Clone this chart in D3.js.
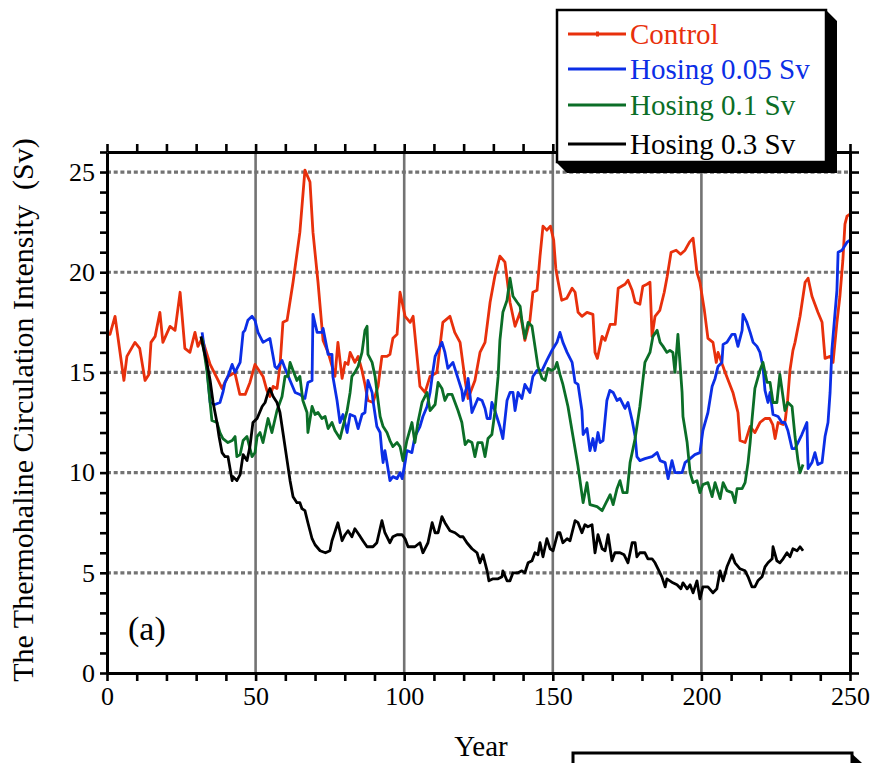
<!DOCTYPE html>
<html><head><meta charset="utf-8">
<script src="https://cdn.jsdelivr.net/npm/d3@7"></script>
<style>
body{margin:0;background:#fff;}
svg{display:block;font-family:"Liberation Serif","Times New Roman",serif;}
</style></head><body>
<svg id="chart" width="876" height="763"></svg>
<script>
const seriesNames = ["Control", "Hosing 0.05 Sv", "Hosing 0.1 Sv", "Hosing 0.3 Sv"];
const seriesColors = ["#e8300c", "#0b2ee6", "#0b6e27", "#000000"];
const xTickLabels = [0, 50, 100, 150, 200, 250];
const yTickLabels = [0, 5, 10, 15, 20, 25];
const xGridYears = [50, 100, 150, 200];
const yGridValues = [5, 10, 15, 20, 25];

// [year, Sv]
const control = [[0,16.9],[1,16.9],[2.7,17.8],[5.7,14.6],[6.7,15.8],[9.4,16.5],[11,16.2],[12.8,14.6],[14.1,14.9],[14.8,16.5],[16.2,16.8],[17.8,18.0],[18.8,16.5],[21.2,17.3],[22.9,17.1],[24.6,19.0],[26.2,16.2],[27.9,16.0],[29.6,17.0],[30.6,16.3],[32,16.7],[34.7,15.4],[37.4,14.6],[38.7,14.2],[40.7,14.8],[43,15.0],[44.7,13.9],[46.5,13.9],[48.1,14.5],[49.8,15.4],[52.5,14.8],[53.8,14.1],[54.8,13.8],[55.9,14.3],[57.2,14.2],[58.2,15.3],[59.2,17.5],[60.6,17.6],[62.6,19.5],[64.9,22.0],[66.6,25.1],[68.3,24.5],[69.3,22.0],[71.0,19.5],[72.7,16.6],[74.4,16.0],[76.7,14.8],[77.7,16.5],[79.1,14.7],[80.1,15.5],[81.1,15.4],[81.8,16.0],[83.4,15.5],[84.5,15.8],[85.8,15.1],[86.8,14.4],[87.8,13.6],[89.5,13.5],[91.2,14.3],[92.5,15.8],[94.2,15.8],[95.2,15.9],[96.2,16.7],[97.6,16.9],[98.6,19.0],[100.3,17.8],[102,17.5],[103,17.8],[105.3,14.3],[107,14.0],[108.7,14.8],[111,15.0],[113,17.5],[115.4,17.8],[117,17.0],[118.8,16.5],[120.5,14.6],[121.5,13.7],[123.8,14.6],[125.5,16.0],[127.2,16.5],[128.9,18.5],[130.5,19.8],[132.2,20.8],[133.9,20.5],[135.6,18.5],[137.3,17.3],[139,18.0],[140.6,16.6],[142.3,17.6],[143.3,19.0],[144.7,19.1],[145.7,20.8],[146.7,22.3],[148,22.1],[149.2,22.3],[150.3,21.6],[151,20.2],[151.7,19.6],[153,18.6],[154.7,18.7],[156.5,19.2],[157.5,19.0],[158.5,18.0],[159.8,17.8],[161.5,18.0],[163.5,17.9],[164.2,16.0],[165,15.7],[166.6,16.8],[167.6,16.6],[169.3,17.4],[171,17.4],[172,19.2],[174.3,19.4],[175.3,19.6],[176.7,19.1],[177.7,18.5],[179.3,18.4],[180.3,19.3],[181.7,19.4],[182.7,19.5],[183.4,16.8],[184.4,17.8],[186,18.1],[187.5,19.0],[188.5,19.8],[189.8,21.0],[191.5,21.1],[193,20.9],[194.5,21.1],[196,21.5],[197.2,21.7],[198.5,20.0],[199.5,19.5],[201,18.1],[202.2,16.7],[203.9,16.5],[205,15.5],[205.6,16.0],[208,15.0],[210.6,14.0],[212.3,13.0],[213,11.6],[214.7,11.5],[216.4,12.3],[218,12.0],[219.7,12.5],[221.4,12.7],[223,12.7],[224,12.4],[224.8,11.7],[225.8,12.5],[227.5,12.4],[228.2,12.6],[229,13.6],[229.8,15.1],[230.8,16.1],[231.5,16.5],[233.2,17.8],[234.9,19.5],[235.9,19.7],[237.2,18.8],[239.2,18.0],[240.6,17.5],[241.6,15.7],[243.3,15.8],[244.3,15.5],[245.6,17.5],[246.6,18.8],[247.6,20.6],[248.3,22.4],[249,22.8],[250,22.9]];

const hosing005 = [[32,17.0],[33.6,15.3],[34.7,13.5],[36.3,13.4],[38,13.5],[39,14.0],[39.7,14.5],[40.7,14.8],[42.1,15.4],[43.1,15.0],[44.1,15.3],[44.8,15.5],[45.8,17.0],[46.4,17.1],[47.4,17.6],[48.8,17.8],[49.8,17.6],[50.8,17.0],[52.5,16.5],[54.8,16.7],[56.5,15.3],[57.2,15.2],[58.9,15.6],[59.9,15.2],[61.6,14.6],[63.3,14.0],[64.9,13.9],[66.6,13.7],[67.6,14.5],[69.0,14.6],[69.3,17.9],[70.7,17.0],[72.3,17.0],[72.7,17.2],[74.4,15.9],[75.7,15.9],[76.0,14.8],[77.4,13.6],[78.4,12.5],[79.4,12.9],[80.8,12.0],[81.8,12.9],[83.4,12.8],[84.5,12.2],[85.8,12.9],[86.8,13.0],[87.8,14.6],[89.2,14.0],[89.5,13.6],[90.8,12.3],[91.9,12.0],[92.5,11.0],[92.9,10.5],[93.5,11.1],[94.2,10.5],[95.2,9.6],[96.2,9.8],[97.6,9.7],[98.6,10.0],[99.3,9.7],[100.3,10.5],[100.9,11.1],[102.6,11.0],[103.6,11.8],[105.3,12.3],[106.3,12.8],[107.7,13.3],[108.7,14.0],[109.7,15.1],[110.4,15.8],[112.7,16.5],[113.7,16.0],[114.7,15.2],[116.4,15.5],[118.1,14.7],[119.4,14.1],[119.8,13.6],[121.1,14.3],[121.5,14.7],[122.8,13.0],[124.8,13.7],[126.2,13.6],[127.2,13.2],[127.9,12.7],[128.9,12.7],[129.5,13.5],[130.5,13.1],[132.2,12.3],[133.2,11.7],[134.6,13.6],[135.6,14.0],[136.6,14.0],[137.3,13.1],[138.3,14.0],[139.6,13.7],[140.6,14.4],[142.3,14.0],[143.3,14.8],[144.7,15.1],[146.4,15.1],[148.0,15.6],[149.7,16.1],[151.4,16.5],[152.4,17.0],[153.4,16.5],[154.8,16.0],[156.5,15.5],[157.5,14.5],[158.5,14.4],[159.8,13.1],[160.2,11.9],[161.5,12.2],[162.5,11.1],[163.5,11.7],[164.2,11.1],[165.2,12.0],[165.9,11.5],[166.9,11.6],[168.2,13.6],[169.2,14.1],[170.3,14.0],[171.6,13.6],[172.6,13.7],[174.3,13.2],[175.3,13.5],[176.7,12.6],[177.7,11.8],[178.3,10.8],[179.3,10.6],[181.0,10.7],[183.4,10.8],[185.1,11.0],[186.1,10.6],[187.8,10.5],[188.8,9.7],[190.1,10.6],[191.1,10.0],[193.5,10.0],[194.5,10.5],[196.2,10.7],[197.8,10.9],[199.5,11.0],[200.5,12.1],[202.2,13.0],[203.6,14.3],[204.6,14.7],[205.6,15.3],[206.9,15.5],[207.3,16.4],[208.6,16.5],[210.3,16.9],[211.3,16.9],[212.3,16.3],[213.7,17.1],[214.0,17.9],[215.3,17.5],[216.4,17.0],[217.4,16.5],[218.7,16.3],[219.7,16.0],[220.7,15.3],[221.4,14.1],[222.4,13.5],[223.1,14.0],[224.1,12.9],[225.8,12.8],[227.1,12.5],[228.1,12.5],[229.1,12.1],[230.5,11.2],[231.5,11.2],[232.5,11.5],[233.8,11.9],[235.5,12.5],[235.9,10.2],[237.2,10.5],[238.2,11.0],[239.2,10.4],[240.6,10.5],[241.6,11.8],[242.6,12.5],[243.3,14.0],[243.9,16.1],[245.6,19.1],[246.0,21.0],[247.3,21.1],[249.0,21.5],[250,21.6]];

const hosing01 = [[32,16.7],[33.6,15.1],[35.3,12.6],[37,12.5],[38,12.0],[39,11.7],[40.7,11.5],[42.1,11.6],[43.1,11.8],[43.7,10.8],[44.8,10.9],[45.8,11.6],[47.1,11.8],[48.8,10.8],[49.8,11.0],[50.5,11.8],[51.5,12.0],[52.5,11.5],[54.2,12.7],[55.5,12.0],[57.2,13.1],[58.9,13.8],[59.9,14.8],[60.9,14.8],[61.6,15.5],[62.6,15.1],[63.9,14.6],[64.9,14.8],[65.9,13.6],[67.3,13.0],[67.6,12.0],[69.0,13.3],[70.0,12.9],[71.0,13.0],[72.3,12.7],[73.4,12.8],[74.4,12.2],[75.7,12.5],[76.7,12.1],[78.4,11.7],[79.4,12.3],[80.8,13.1],[81.8,14.0],[82.4,14.8],[83.4,15.0],[84.5,15.3],[85.8,16.0],[86.8,17.1],[87.5,17.3],[87.8,15.9],[89.2,15.5],[90.2,14.8],[91.2,13.6],[91.9,12.8],[92.9,12.3],[94.2,12.0],[95.2,11.6],[96.2,11.3],[97.6,11.5],[98.6,11.3],[99.6,10.6],[100.9,11.6],[102.6,12.5],[103.6,11.5],[104.6,12.5],[106.0,13.5],[107.7,14.0],[108.7,13.1],[110.4,13.4],[111.4,14.5],[112.7,14.2],[113.7,13.6],[114.7,13.9],[116.1,13.9],[117.1,13.5],[118.1,13.1],[119.4,12.5],[120.5,11.4],[121.5,11.6],[122.8,11.5],[123.8,10.8],[124.8,11.5],[126.2,11.5],[127.2,10.8],[128.2,11.7],[129.5,11.9],[130.5,13.0],[131.6,14.8],[132.2,16.6],[133.2,18.0],[134.6,18.6],[135.6,19.7],[136.6,18.8],[138.0,18.5],[139.0,18.3],[139.6,17.6],[140.6,16.7],[141.7,17.5],[143.0,17.3],[144.0,16.3],[145.0,15.3],[146.4,14.7],[147.4,14.6],[148.4,15.2],[149.7,15.1],[150.7,15.2],[151.4,15.5],[152.4,14.9],[153.4,14.4],[155.1,13.3],[156.8,11.8],[158.5,10.3],[160.2,8.5],[161.5,9.5],[162.5,8.4],[164.9,8.3],[166.6,8.1],[167.6,8.4],[169.3,8.9],[170.3,8.4],[171.6,9.2],[172.6,9.6],[173.6,9.0],[175.0,9.0],[176.0,10.5],[177.7,11.7],[179.3,13.3],[181.0,15.5],[182.7,16.0],[183.7,16.8],[185.1,17.1],[186.1,16.5],[187.1,16.3],[188.4,16.0],[189.4,16.1],[190.4,16.0],[191.1,15.0],[192.1,16.9],[193.5,14.0],[193.8,12.8],[195.2,11.5],[196.2,10.0],[197.2,9.5],[198.5,9.6],[199.5,9.0],[200.5,9.4],[202.2,9.5],[203.6,8.8],[204.6,9.5],[206.3,8.7],[207.3,9.5],[208.6,9.1],[210.3,9.0],[211.3,8.5],[212.0,9.2],[213.7,9.2],[214.7,9.5],[215.7,10.5],[216.4,11.5],[217.0,12.6],[218.0,14.2],[219.7,15.1],[220.7,15.5],[222.1,14.5],[223.1,14.5],[224.1,13.5],[225.4,13.5],[226.4,14.9],[228.1,13.1],[229.1,13.5],[230.5,13.3],[231.5,11.8],[232.5,10.6],[233.2,10.0],[234.2,10.4]];

const hosing03 = [[31.6,16.8],[32.3,16.3],[33.6,15.5],[34.7,14.6],[35.7,13.5],[37.0,12.5],[37.7,11.8],[38.7,11.0],[39.7,10.8],[40.7,10.8],[42.1,9.6],[42.4,9.8],[43.7,9.6],[44.8,9.9],[45.8,10.9],[47.1,10.6],[48.1,11.3],[49.1,12.5],[50.5,12.7],[52.2,13.3],[53.2,13.5],[54.2,14.0],[54.8,14.2],[55.9,13.8],[57.2,13.5],[58.2,13.0],[59.2,12.0],[60.6,10.6],[61.6,9.6],[62.6,8.8],[63.9,8.5],[64.9,8.5],[65.6,8.2],[66.6,8.1],[67.6,7.5],[69.0,6.7],[70.0,6.4],[71.7,6.1],[73.5,6.0],[75.0,6.1],[75.7,6.6],[77.7,7.5],[79.1,6.6],[80.1,6.9],[81.1,7.1],[82.4,6.8],[83.4,7.2],[84.8,6.9],[86.1,6.6],[87.5,6.3],[89.5,6.3],[90.8,6.5],[92.5,7.6],[93.5,7.0],[95.2,6.5],[96.2,6.8],[97.6,6.9],[99.3,6.9],[100.3,6.7],[101.3,6.3],[102.0,6.3],[103.6,6.3],[105.3,6.5],[106.3,6.0],[108.0,6.5],[109.4,7.5],[110.4,7.0],[111.4,7.0],[112.7,7.8],[113.7,7.5],[115.4,7.1],[117.1,7.0],[118.8,6.8],[119.8,6.8],[121.1,6.5],[122.8,6.2],[124.5,6.0],[125.5,5.5],[126.5,5.9],[127.9,5.1],[128.5,4.6],[129.9,4.7],[131.6,4.7],[132.9,4.8],[133.2,5.1],[134.6,4.6],[135.6,4.6],[136.6,5.0],[138.3,5.0],[139.6,5.1],[140.6,5.0],[141.7,5.5],[143.0,5.6],[144.0,6.0],[145.0,5.9],[145.7,6.5],[146.7,5.8],[148.0,6.7],[149.1,6.2],[150.1,6.1],[151.7,7.0],[152.4,7.0],[153.4,6.5],[154.8,6.7],[155.8,6.6],[157.5,7.6],[158.5,7.5],[159.8,7.0],[160.8,7.4],[161.8,7.3],[163.2,7.4],[164.2,6.0],[165.2,6.9],[166.6,6.2],[167.6,6.1],[168.6,6.9],[169.9,5.6],[170.9,6.0],[172.6,6.0],[174.0,5.9],[175.3,5.5],[176.7,6.5],[177.7,6.5],[178.3,5.8],[179.3,6.0],[181.0,6.0],[182.0,5.7],[183.4,5.7],[184.4,5.5],[185.4,5.2],[186.7,4.8],[187.8,4.3],[188.4,4.7],[189.4,4.6],[190.4,4.5],[191.8,4.4],[193.1,4.2],[193.8,4.5],[195.2,4.2],[196.2,4.4],[197.2,4.0],[198.5,4.6],[199.5,3.7],[200.5,4.3],[202.2,4.3],[203.9,4.0],[205.2,4.2],[206.3,5.1],[207.3,4.6],[208.6,5.3],[210.3,5.9],[211.3,5.5],[213.0,5.2],[214.7,5.1],[215.7,4.8],[217.0,4.3],[218.0,4.3],[219.0,4.6],[220.4,4.8],[221.4,5.3],[222.4,5.5],[223.8,5.7],[224.1,6.3],[225.4,5.6],[226.4,5.5],[227.5,5.7],[228.8,6.0],[229.8,5.8],[230.8,6.2],[232.2,6.1],[233.2,6.3],[234.2,6.1]];

const allSeries = [control, hosing005, hosing01, hosing03];

const svg = d3.select("#chart");
const x = d3.scaleLinear().domain([0, 250]).range([107, 850]);
const y = d3.scaleLinear().domain([0, 26]).range([673, 152]);
const gridGray = "#737373";

// grid
svg.append("g").selectAll("line").data(yGridValues).join("line")
  .attr("x1", x(0)).attr("x2", x(250))
  .attr("y1", d => y(d)).attr("y2", d => y(d))
  .attr("stroke", gridGray).attr("stroke-width", 3.2)
  .attr("stroke-dasharray", "4,2.7");
svg.append("g").selectAll("line").data(xGridYears).join("line")
  .attr("x1", d => x(d)).attr("x2", d => x(d))
  .attr("y1", y(0)).attr("y2", y(26))
  .attr("stroke", gridGray).attr("stroke-width", 2.6);

// lines
const line = d3.line().x(d => x(d[0])).y(d => y(d[1]));
svg.append("g").selectAll("path").data(allSeries).join("path")
  .attr("d", line)
  .attr("fill", "none")
  .attr("stroke", (d, i) => seriesColors[i])
  .attr("stroke-width", 2.8)
  .attr("stroke-linejoin", "round");

// axes
function styleAxis(g) {
  g.select(".domain").attr("stroke", "#000").attr("stroke-width", 3);
  g.selectAll(".tick line").attr("stroke", "#000").attr("stroke-width", 2.6);
  g.selectAll(".tick text").attr("fill", "#000")
    .style("font-family", "'Liberation Serif','Times New Roman',serif")
    .style("font-size", "26px");
}
const yMinor = d3.range(0, 27, 1);
const xMinor = d3.range(0, 251, 10);

svg.append("g").attr("transform", `translate(${x(0)},0)`)
  .call(d3.axisLeft(y).tickValues(yMinor).tickSize(7).tickSizeOuter(0).tickPadding(5)
    .tickFormat(d => yTickLabels.includes(d) ? d : ""))
  .call(styleAxis);
svg.append("g").attr("transform", `translate(${x(250)},0)`)
  .call(d3.axisRight(y).tickValues(yMinor).tickSize(9).tickSizeOuter(0).tickFormat(""))
  .call(styleAxis);
svg.append("g").attr("transform", `translate(0,${y(0)})`)
  .call(d3.axisBottom(x).tickValues(xMinor).tickSize(8).tickSizeOuter(0).tickPadding(6)
    .tickFormat(d => xTickLabels.includes(d) ? d : ""))
  .call(styleAxis);
svg.append("g").attr("transform", `translate(0,${y(26)})`)
  .call(d3.axisTop(x).tickValues(xMinor).tickSize(8).tickSizeOuter(0).tickFormat(""))
  .call(styleAxis);

// axis titles
svg.append("text").attr("x", 481).attr("y", 756).attr("text-anchor", "middle")
  .style("font-size", "29px").text("Year");
svg.append("text").attr("transform", "translate(33,410) rotate(-90)")
  .attr("text-anchor", "middle").style("font-size", "30px")
  .attr("xml:space", "preserve")
  .text("The Thermohaline Circulation Intensity  (Sv)");
svg.append("text").attr("x", 128).attr("y", 640).style("font-size", "34px").text("(a)");

// legend
const lg = svg.append("g");
lg.append("polygon").attr("points", "826,10 837,21 837,173 567,173 556,162 826,162").attr("fill", "#000");
lg.append("rect").attr("x", 557).attr("y", 10).attr("width", 269).attr("height", 152)
  .attr("fill", "#fff").attr("stroke", "#000").attr("stroke-width", 2.5);
const legendRows = lg.selectAll("g.row").data(seriesNames).join("g").attr("class", "row")
  .attr("transform", (d, i) => `translate(0,${[34, 69, 105, 144][i]})`);
legendRows.append("line").attr("x1", 568).attr("x2", 626).attr("y1", 0).attr("y2", 0)
  .attr("stroke", (d, i) => seriesColors[i]).attr("stroke-width", 2.8);
legendRows.filter((d, i) => i === 0).append("rect")
  .attr("x", 596).attr("y", -2.5).attr("width", 3).attr("height", 5).attr("fill", seriesColors[0]);
legendRows.append("text").attr("x", 630).attr("y", 10)
  .attr("fill", (d, i) => seriesColors[i]).style("font-size", "29px").text(d => d);

// second (cut-off) box at bottom
svg.append("polygon").attr("points", "850,752 862,763 862,790 850,790").attr("fill", "#000");
svg.append("rect").attr("x", 573).attr("y", 753).attr("width", 279).attr("height", 40)
  .attr("fill", "#fff").attr("stroke", "#000").attr("stroke-width", 3);
</script>
</body></html>
